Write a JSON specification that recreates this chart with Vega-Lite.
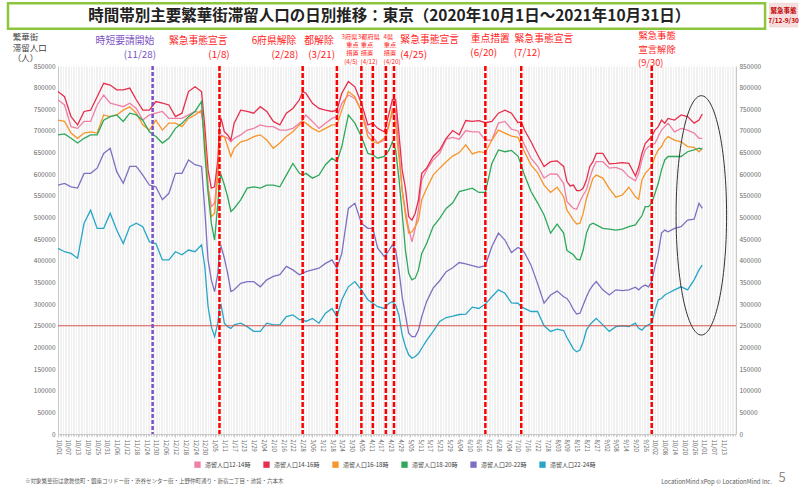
{
"$schema":"https://vega.github.io/schema/vega-lite/v6.json",
"width":678,"height":368,
"autosize":{"type":"none"},
"padding":{"left":58,"top":66,"right":64,"bottom":55},
"background":"white",
"config":{"view":{"stroke":null},"font":"Noto Sans CJK JP","text":{"font":"Noto Sans CJK JP"}},
"datasets":{
"pop":[
{"d":"2020-10-01","h12":772000,"h14":791000,"h16":725000,"h18":691000,"h20":575000,"h22":429000},
{"d":"2020-10-05","h12":760000,"h14":779000,"h16":722000,"h18":693000,"h20":579000,"h22":421000},
{"d":"2020-10-09","h12":710000,"h14":733000,"h16":695000,"h18":683000,"h20":571000,"h22":417000},
{"d":"2020-10-13","h12":706000,"h14":714000,"h16":683000,"h18":672000,"h20":568000,"h22":406000},
{"d":"2020-10-17","h12":722000,"h14":745000,"h16":695000,"h18":683000,"h20":602000,"h22":487000},
{"d":"2020-10-21","h12":722000,"h14":748000,"h16":698000,"h18":691000,"h20":602000,"h22":517000},
{"d":"2020-10-25","h12":760000,"h14":779000,"h16":695000,"h18":691000,"h20":614000,"h22":475000},
{"d":"2020-10-29","h12":783000,"h14":810000,"h16":737000,"h18":725000,"h20":648000,"h22":475000},
{"d":"2020-11-02","h12":764000,"h14":806000,"h16":733000,"h18":733000,"h20":660000,"h22":510000},
{"d":"2020-11-06","h12":760000,"h14":795000,"h16":737000,"h18":737000,"h20":606000,"h22":471000},
{"d":"2020-11-10","h12":756000,"h14":795000,"h16":748000,"h18":722000,"h20":579000,"h22":440000},
{"d":"2020-11-14","h12":764000,"h14":799000,"h16":756000,"h18":741000,"h20":618000,"h22":479000},
{"d":"2020-11-18","h12":752000,"h14":772000,"h16":741000,"h18":737000,"h20":618000,"h22":487000},
{"d":"2020-11-22","h12":725000,"h14":748000,"h16":714000,"h18":725000,"h20":598000,"h22":479000},
{"d":"2020-11-26","h12":737000,"h14":748000,"h16":702000,"h18":698000,"h20":575000,"h22":444000},
{"d":"2020-11-30","h12":741000,"h14":768000,"h16":725000,"h18":687000,"h20":571000,"h22":440000},
{"d":"2020-12-04","h12":745000,"h14":764000,"h16":702000,"h18":672000,"h20":541000,"h22":402000},
{"d":"2020-12-08","h12":729000,"h14":760000,"h16":718000,"h18":683000,"h20":556000,"h22":402000},
{"d":"2020-12-12","h12":729000,"h14":733000,"h16":718000,"h18":706000,"h20":602000,"h22":421000},
{"d":"2020-12-16","h12":729000,"h14":741000,"h16":710000,"h18":718000,"h20":602000,"h22":414000},
{"d":"2020-12-20","h12":737000,"h14":791000,"h16":729000,"h18":733000,"h20":633000,"h22":425000},
{"d":"2020-12-24","h12":745000,"h14":802000,"h16":737000,"h18":745000,"h20":622000,"h22":421000},
{"d":"2020-12-28","h12":741000,"h14":791000,"h16":748000,"h18":768000,"h20":618000,"h22":437000},
{"d":"2020-12-30","h12":687000,"h14":710000,"h16":679000,"h18":648000,"h20":518000,"h22":387000},
{"d":"2021-01-01","h12":571000,"h14":610000,"h16":571000,"h18":556000,"h20":402000,"h22":294000},
{"d":"2021-01-03","h12":525000,"h14":568000,"h16":502000,"h18":487000,"h20":356000,"h22":248000},
{"d":"2021-01-05","h12":533000,"h14":571000,"h16":510000,"h18":448000,"h20":329000,"h22":225000},
{"d":"2021-01-07","h12":610000,"h14":633000,"h16":602000,"h18":533000,"h20":371000,"h22":256000},
{"d":"2021-01-08","h12":679000,"h14":710000,"h16":672000,"h18":587000,"h20":425000,"h22":294000},
{"d":"2021-01-09","h12":691000,"h14":729000,"h16":687000,"h18":598000,"h20":433000,"h22":298000},
{"d":"2021-01-11","h12":687000,"h14":698000,"h16":687000,"h18":575000,"h20":406000,"h22":256000},
{"d":"2021-01-13","h12":683000,"h14":691000,"h16":664000,"h18":548000,"h20":371000,"h22":248000},
{"d":"2021-01-15","h12":675000,"h14":679000,"h16":641000,"h18":514000,"h20":329000,"h22":244000},
{"d":"2021-01-17","h12":683000,"h14":718000,"h16":660000,"h18":521000,"h20":333000,"h22":252000},
{"d":"2021-01-21","h12":691000,"h14":748000,"h16":675000,"h18":541000,"h20":348000,"h22":256000},
{"d":"2021-01-25","h12":702000,"h14":745000,"h16":679000,"h18":568000,"h20":352000,"h22":248000},
{"d":"2021-01-29","h12":706000,"h14":741000,"h16":687000,"h18":571000,"h20":352000,"h22":237000},
{"d":"2021-02-02","h12":714000,"h14":756000,"h16":691000,"h18":568000,"h20":340000,"h22":237000},
{"d":"2021-02-06","h12":710000,"h14":745000,"h16":679000,"h18":575000,"h20":356000,"h22":256000},
{"d":"2021-02-10","h12":710000,"h14":722000,"h16":660000,"h18":575000,"h20":364000,"h22":252000},
{"d":"2021-02-14","h12":702000,"h14":714000,"h16":672000,"h18":571000,"h20":368000,"h22":252000},
{"d":"2021-02-18","h12":702000,"h14":741000,"h16":687000,"h18":598000,"h20":387000,"h22":271000},
{"d":"2021-02-22","h12":706000,"h14":752000,"h16":698000,"h18":625000,"h20":379000,"h22":275000},
{"d":"2021-02-26","h12":718000,"h14":772000,"h16":714000,"h18":602000,"h20":368000,"h22":264000},
{"d":"2021-02-28","h12":725000,"h14":791000,"h16":722000,"h18":598000,"h20":371000,"h22":264000},
{"d":"2021-03-02","h12":737000,"h14":787000,"h16":718000,"h18":602000,"h20":375000,"h22":260000},
{"d":"2021-03-06","h12":722000,"h14":764000,"h16":706000,"h18":591000,"h20":379000,"h22":267000},
{"d":"2021-03-10","h12":706000,"h14":752000,"h16":698000,"h18":598000,"h20":383000,"h22":256000},
{"d":"2021-03-14","h12":718000,"h14":748000,"h16":706000,"h18":622000,"h20":394000,"h22":279000},
{"d":"2021-03-18","h12":729000,"h14":745000,"h16":714000,"h18":637000,"h20":402000,"h22":290000},
{"d":"2021-03-21","h12":733000,"h14":748000,"h16":714000,"h18":629000,"h20":383000,"h22":271000},
{"d":"2021-03-24","h12":764000,"h14":787000,"h16":748000,"h18":664000,"h20":417000,"h22":310000},
{"d":"2021-03-28","h12":783000,"h14":814000,"h16":791000,"h18":737000,"h20":521000,"h22":340000},
{"d":"2021-04-01","h12":775000,"h14":802000,"h16":779000,"h18":718000,"h20":533000,"h22":352000},
{"d":"2021-04-05","h12":748000,"h14":764000,"h16":745000,"h18":687000,"h20":487000,"h22":333000},
{"d":"2021-04-09","h12":698000,"h14":714000,"h16":687000,"h18":648000,"h20":475000,"h22":310000},
{"d":"2021-04-12","h12":687000,"h14":718000,"h16":675000,"h18":645000,"h20":475000,"h22":302000},
{"d":"2021-04-15","h12":671000,"h14":706000,"h16":672000,"h18":637000,"h20":429000,"h22":294000},
{"d":"2021-04-19","h12":679000,"h14":698000,"h16":683000,"h18":641000,"h20":410000,"h22":290000},
{"d":"2021-04-20","h12":691000,"h14":710000,"h16":687000,"h18":645000,"h20":414000,"h22":294000},
{"d":"2021-04-22","h12":718000,"h14":741000,"h16":714000,"h18":656000,"h20":425000,"h22":302000},
{"d":"2021-04-24","h12":741000,"h14":772000,"h16":752000,"h18":675000,"h20":437000,"h22":306000},
{"d":"2021-04-26","h12":748000,"h14":772000,"h16":714000,"h18":656000,"h20":425000,"h22":298000},
{"d":"2021-04-28","h12":656000,"h14":695000,"h16":641000,"h18":591000,"h20":379000,"h22":275000},
{"d":"2021-04-30","h12":564000,"h14":610000,"h16":564000,"h18":510000,"h20":317000,"h22":229000},
{"d":"2021-05-02","h12":514000,"h14":568000,"h16":506000,"h18":425000,"h20":275000,"h22":202000},
{"d":"2021-05-04","h12":475000,"h14":502000,"h16":464000,"h18":371000,"h20":233000,"h22":183000},
{"d":"2021-05-06","h12":444000,"h14":494000,"h16":467000,"h18":356000,"h20":225000,"h22":175000},
{"d":"2021-05-08","h12":475000,"h14":510000,"h16":479000,"h18":360000,"h20":225000,"h22":179000},
{"d":"2021-05-10","h12":518000,"h14":541000,"h16":494000,"h18":379000,"h20":240000,"h22":186000},
{"d":"2021-05-12","h12":587000,"h14":602000,"h16":541000,"h18":417000,"h20":271000,"h22":198000},
{"d":"2021-05-15","h12":610000,"h14":614000,"h16":567000,"h18":440000,"h20":306000,"h22":216000},
{"d":"2021-05-19","h12":633000,"h14":641000,"h16":598000,"h18":479000,"h20":337000,"h22":237000},
{"d":"2021-05-23","h12":648000,"h14":656000,"h16":614000,"h18":498000,"h20":354000,"h22":260000},
{"d":"2021-05-27","h12":681000,"h14":683000,"h16":629000,"h18":521000,"h20":375000,"h22":269000},
{"d":"2021-05-31","h12":685000,"h14":701000,"h16":642000,"h18":534000,"h20":384000,"h22":272000},
{"d":"2021-06-04","h12":681000,"h14":691000,"h16":650000,"h18":560000,"h20":396000,"h22":276000},
{"d":"2021-06-08","h12":701000,"h14":724000,"h16":668000,"h18":564000,"h20":393000,"h22":277000},
{"d":"2021-06-12","h12":698000,"h14":722000,"h16":647000,"h18":568000,"h20":389000,"h22":293000},
{"d":"2021-06-16","h12":698000,"h14":724000,"h16":652000,"h18":558000,"h20":385000,"h22":290000},
{"d":"2021-06-20","h12":679000,"h14":719000,"h16":650000,"h18":558000,"h20":389000,"h22":300000},
{"d":"2021-06-24","h12":679000,"h14":722000,"h16":679000,"h18":625000,"h20":433000,"h22":317000},
{"d":"2021-06-28","h12":718000,"h14":741000,"h16":702000,"h18":656000,"h20":464000,"h22":333000},
{"d":"2021-07-02","h12":722000,"h14":748000,"h16":695000,"h18":652000,"h20":448000,"h22":325000},
{"d":"2021-07-06","h12":704000,"h14":741000,"h16":688000,"h18":655000,"h20":419000,"h22":303000},
{"d":"2021-07-10","h12":700000,"h14":719000,"h16":685000,"h18":642000,"h20":431000,"h22":302000},
{"d":"2021-07-12","h12":683000,"h14":721000,"h16":668000,"h18":621000,"h20":427000,"h22":294000},
{"d":"2021-07-14","h12":668000,"h14":702000,"h16":652000,"h18":598000,"h20":419000,"h22":290000},
{"d":"2021-07-18","h12":637000,"h14":675000,"h16":621000,"h18":560000,"h20":390000,"h22":283000},
{"d":"2021-07-22","h12":619000,"h14":645000,"h16":604000,"h18":534000,"h20":348000,"h22":283000},
{"d":"2021-07-26","h12":591000,"h14":618000,"h16":575000,"h18":506000,"h20":302000,"h22":250000},
{"d":"2021-07-30","h12":601000,"h14":629000,"h16":558000,"h18":464000,"h20":321000,"h22":237000},
{"d":"2021-08-03","h12":600000,"h14":631000,"h16":570000,"h18":485000,"h20":330000,"h22":242000},
{"d":"2021-08-07","h12":579000,"h14":618000,"h16":548000,"h18":464000,"h20":317000,"h22":239000},
{"d":"2021-08-09","h12":537000,"h14":583000,"h16":517000,"h18":424000,"h20":313000,"h22":223000},
{"d":"2021-08-11","h12":529000,"h14":573000,"h16":506000,"h18":419000,"h20":302000,"h22":210000},
{"d":"2021-08-13","h12":521000,"h14":575000,"h16":494000,"h18":414000,"h20":287000,"h22":196000},
{"d":"2021-08-15","h12":519000,"h14":562000,"h16":485000,"h18":404000,"h20":277000,"h22":190000},
{"d":"2021-08-17","h12":537000,"h14":562000,"h16":487000,"h18":402000,"h20":279000,"h22":194000},
{"d":"2021-08-19","h12":552000,"h14":568000,"h16":510000,"h18":425000,"h20":298000,"h22":213000},
{"d":"2021-08-21","h12":564000,"h14":587000,"h16":544000,"h18":464000,"h20":317000,"h22":240000},
{"d":"2021-08-23","h12":591000,"h14":618000,"h16":567000,"h18":483000,"h20":333000,"h22":252000},
{"d":"2021-08-25","h12":614000,"h14":629000,"h16":591000,"h18":487000,"h20":344000,"h22":260000},
{"d":"2021-08-27","h12":629000,"h14":648000,"h16":598000,"h18":483000,"h20":352000,"h22":267000},
{"d":"2021-08-31","h12":629000,"h14":648000,"h16":591000,"h18":475000,"h20":333000,"h22":252000},
{"d":"2021-09-04","h12":614000,"h14":624000,"h16":567000,"h18":473000,"h20":321000,"h22":237000},
{"d":"2021-09-08","h12":616000,"h14":625000,"h16":547000,"h18":471000,"h20":333000,"h22":248000},
{"d":"2021-09-12","h12":610000,"h14":627000,"h16":552000,"h18":473000,"h20":331000,"h22":250000},
{"d":"2021-09-16","h12":594000,"h14":625000,"h16":570000,"h18":479000,"h20":333000,"h22":248000},
{"d":"2021-09-20","h12":585000,"h14":596000,"h16":548000,"h18":483000,"h20":339000,"h22":256000},
{"d":"2021-09-22","h12":602000,"h14":616000,"h16":542000,"h18":494000,"h20":333000,"h22":244000},
{"d":"2021-09-24","h12":633000,"h14":648000,"h16":587000,"h18":504000,"h20":340000,"h22":240000},
{"d":"2021-09-26","h12":656000,"h14":671000,"h16":602000,"h18":525000,"h20":344000,"h22":248000},
{"d":"2021-09-28","h12":664000,"h14":679000,"h16":610000,"h18":525000,"h20":340000,"h22":252000},
{"d":"2021-09-30","h12":668000,"h14":687000,"h16":618000,"h18":533000,"h20":352000,"h22":256000},
{"d":"2021-10-02","h12":671000,"h14":702000,"h16":641000,"h18":556000,"h20":387000,"h22":286000},
{"d":"2021-10-04","h12":687000,"h14":710000,"h16":656000,"h18":579000,"h20":417000,"h22":310000},
{"d":"2021-10-06","h12":702000,"h14":725000,"h16":664000,"h18":610000,"h20":464000,"h22":313000},
{"d":"2021-10-08","h12":710000,"h14":718000,"h16":679000,"h18":633000,"h20":471000,"h22":321000},
{"d":"2021-10-10","h12":718000,"h14":729000,"h16":687000,"h18":641000,"h20":467000,"h22":325000},
{"d":"2021-10-14","h12":698000,"h14":725000,"h16":679000,"h18":641000,"h20":475000,"h22":333000},
{"d":"2021-10-18","h12":706000,"h14":737000,"h16":675000,"h18":641000,"h20":479000,"h22":340000},
{"d":"2021-10-22","h12":702000,"h14":733000,"h16":664000,"h18":652000,"h20":494000,"h22":333000},
{"d":"2021-10-26","h12":695000,"h14":718000,"h16":662000,"h18":656000,"h20":496000,"h22":356000},
{"d":"2021-10-29","h12":683000,"h14":725000,"h16":652000,"h18":660000,"h20":533000,"h22":379000},
{"d":"2021-10-31","h12":683000,"h14":739000,"h16":660000,"h18":658000,"h20":521000,"h22":390000}
]},
"layer":[
{"data":{"values":[{"x1":"2020-08-31T08:00:00Z","x2":"2021-12-08T12:00:00Z","y1":995000,"y2":936000}]},
 "mark":{"type":"rect","fill":"white","stroke":"#8cc63e","strokeWidth":2.5},
 "encoding":{"x":{"field":"x1","type":"temporal","axis":null},"x2":{"field":"x2"},"y":{"field":"y1","type":"quantitative","axis":null},"y2":{"field":"y2"}}},
{"data":{"values":[{"x1":"2021-12-11T06:00:00Z","x2":"2021-12-28T12:00:00Z","y1":995000,"y2":940000}]},
 "mark":{"type":"rect","fill":"#f6dede","stroke":"#e8c8c8","strokeWidth":0.5},
 "encoding":{"x":{"field":"x1","type":"temporal","axis":null},"x2":{"field":"x2"},"y":{"field":"y1","type":"quantitative","axis":null},"y2":{"field":"y2"}}},
{"data":{"values":[{"d":"2020-11-28"}]},
 "mark":{"type":"rule","color":"#7b4fc8","strokeWidth":2,"strokeDash":[4,2]},
 "encoding":{"x":{"field":"d","type":"temporal",
   "axis":{"orient":"bottom","title":null,"tickCount":{"interval":"day","step":1},"labels":false,"ticks":true,"tickSize":2,"tickColor":"#d0d0d0","domain":false,
    "grid":true,"gridColor":"#ebebeb","gridWidth":0.7}}}},
{"data":{"name":"pop"},
 "transform":[{"fold":["h12","h14","h16","h18","h20","h22"],"as":["s","v"]}],
 "mark":{"type":"line","strokeWidth":1.3,"clip":true},
 "encoding":{
  "x":{"field":"d","type":"temporal",
   "scale":{"type":"utc","domain":[{"year":2020,"month":10,"date":1,"utc":true},{"year":2021,"month":11,"date":20,"hours":16,"utc":true}]},
   "axis":{"orient":"bottom","title":null,
    "values":[1601510400000,1602028800000,1602547200000,1603065600000,1603584000000,1604102400000,1604620800000,1605139200000,1605657600000,1606176000000,1606694400000,1607212800000,1607731200000,1608249600000,1608768000000,1609286400000,1609804800000,1610323200000,1610841600000,1611360000000,1611878400000,1612396800000,1612915200000,1613433600000,1613952000000,1614470400000,1614988800000,1615507200000,1616025600000,1616544000000,1617062400000,1617580800000,1618099200000,1618617600000,1619136000000,1619654400000,1620172800000,1620691200000,1621209600000,1621728000000,1622246400000,1622764800000,1623283200000,1623801600000,1624320000000,1624838400000,1625356800000,1625875200000,1626393600000,1626912000000,1627430400000,1627948800000,1628467200000,1628985600000,1629504000000,1630022400000,1630540800000,1631059200000,1631577600000,1632096000000,1632614400000,1633132800000,1633651200000,1634169600000,1634688000000,1635206400000,1635724800000,1636243200000,1636761600000],
    "format":"%-m/%d",
    "labelAngle":90,"labelAlign":"left","labelBaseline":"middle","labelFontSize":6,"labelColor":"#666666","labelOverlap":false,"labelFlush":false,"labelBound":false,
    "grid":false,"tickSize":3,"tickColor":"#c8c8c8","domainColor":"#c8c8c8","labelPadding":2}},
  "y":{"field":"v","type":"quantitative","scale":{"domain":[0,850000],"nice":false},
   "axis":{"orient":"left","title":null,"values":[0,50000,100000,150000,200000,250000,300000,350000,400000,450000,500000,550000,600000,650000,700000,750000,800000,850000],
    "format":"d","labelFontSize":6.5,"labelColor":"#666666","ticks":false,"domainColor":"#c8c8c8","gridColor":"#e2e2e2","labelPadding":3}},
  "color":{"field":"s","type":"nominal",
   "scale":{"domain":["h12","h14","h16","h18","h20","h22"],"range":["#f07fa6","#e62e4d","#f7952a","#2ea85a","#7f6fc0","#27a6c6"]},
   "legend":{"orient":"none","legendX":136,"legendY":395,"direction":"horizontal","title":null,
    "symbolType":"square","symbolSize":40,"symbolStrokeWidth":0,"labelFontSize":6,"labelColor":"#404040","columnPadding":12,
    "labelExpr":"'滞留人口' + substring(datum.label,1) + '-' + (toNumber(substring(datum.label,1)) + 2) + '時'",
    "encode":{"symbols":{"update":{"fill":{"scale":"color","field":"value"},"fillOpacity":{"value":1}}}}}}
 }},
{"data":{"values":[{"v":250000}]},
 "mark":{"type":"rule","color":"#d9534f","strokeWidth":1},
 "encoding":{"y":{"field":"v","type":"quantitative",
   "axis":{"orient":"right","title":null,"values":[0,50000,100000,150000,200000,250000,300000,350000,400000,450000,500000,550000,600000,650000,700000,750000,800000,850000],
    "format":"d","labelFontSize":6.5,"labelColor":"#666666","ticks":false,"domainColor":"#c8c8c8","grid":false,"labelPadding":3}}}},
{"data":{"values":[{"d":"2021-01-08"},{"d":"2021-02-28"},{"d":"2021-03-21"},{"d":"2021-04-05"},{"d":"2021-04-12"},{"d":"2021-04-20"},{"d":"2021-04-25"},{"d":"2021-06-20"},{"d":"2021-07-12"},{"d":"2021-09-30"}]},
 "mark":{"type":"rule","color":"#ff0000","strokeWidth":2.5,"strokeDash":[5,2]},
 "encoding":{"x":{"field":"d","type":"temporal","axis":null}}},
{"data":{"values":[{"d":"2020-11-28"}]},
 "mark":{"type":"rule","color":"#7b4fc8","strokeWidth":2,"strokeDash":[4,2]},
 "encoding":{"x":{"field":"d","type":"temporal","axis":null}}},
{"data":{"values":[{"d":"2021-10-30T10:00:00Z","v":505000}]},
 "mark":{"type":"point","shape":"M0,-1A0.211,1,0,1,1,0,1A0.211,1,0,1,1,0,-1Z","size":57300,"filled":false,"stroke":"#333333","strokeWidth":1,"opacity":1},
 "encoding":{"x":{"field":"d","type":"temporal","axis":null},"y":{"field":"v","type":"quantitative","axis":null}}},
{"data":{"values":[{"t":"時間帯別主要繁華街滞留人口の日別推移：東京（2020年10月1日～2021年10月31日）","d":"2021-04-22T02:00:00Z","v":965000}]},
 "mark":{"type":"text","fontSize":15.5,"fontWeight":"bold","color":"#222222","align":"center","baseline":"middle"},
 "encoding":{"x":{"field":"d","type":"temporal","axis":null},"y":{"field":"v","type":"quantitative","axis":null},"text":{"field":"t"}}},
{"data":{"values":[{"t":"緊急事態","d":"2021-12-19T20:00:00Z","v":977000},{"t":"7/12-9/30","d":"2021-12-19T20:00:00Z","v":954000}]},
 "mark":{"type":"text","fontSize":6.5,"fontWeight":"bold","color":"#c00000","align":"center","baseline":"middle"},
 "encoding":{"x":{"field":"d","type":"temporal","axis":null},"y":{"field":"v","type":"quantitative","axis":null},"text":{"field":"t"}}},
{"data":{"values":[{"t":"繁華街","d":"2020-09-03T07:00:00Z","v":917000},{"t":"滞留人口","d":"2020-09-03T07:00:00Z","v":892000},{"t":"（人）","d":"2020-09-03T07:00:00Z","v":868000}]},
 "mark":{"type":"text","fontSize":8.5,"color":"#404040","align":"left","baseline":"middle"},
 "encoding":{"x":{"field":"d","type":"temporal","axis":null},"y":{"field":"v","type":"quantitative","axis":null},"text":{"field":"t"}}},
{"data":{"values":[{"t":"時短要請開始","d":"2020-11-11T02:00:00Z","v":908000},{"t":"(11/28)","d":"2020-11-20T05:00:00Z","v":874500}]},
 "mark":{"type":"text","fontSize":9.8,"color":"#7b52c4","align":"center","baseline":"middle"},
 "encoding":{"x":{"field":"d","type":"temporal","axis":null},"y":{"field":"v","type":"quantitative","axis":null},"text":{"field":"t"}}},
{"data":{"values":[
 {"t":"緊急事態宣言","d":"2020-12-26T00:00:00Z","v":908000},{"t":"(1/8)","d":"2021-01-07T17:00:00Z","v":874500},
 {"t":"6府県解除","d":"2021-02-10T10:00:00Z","v":908000},{"t":"(2/28)","d":"2021-02-17T02:00:00Z","v":874500},
 {"t":"都解除","d":"2021-03-10T00:00:00Z","v":908000},{"t":"(3/21)","d":"2021-03-11T14:00:00Z","v":874500},
 {"t":"緊急事態宣言","d":"2021-05-16T22:00:00Z","v":910000},{"t":"(4/25)","d":"2021-05-07T00:00:00Z","v":876500},
 {"t":"重点措置","d":"2021-06-23T00:00:00Z","v":913500},{"t":"(6/20)","d":"2021-06-19T00:00:00Z","v":880000},
 {"t":"緊急事態宣言","d":"2021-07-25T22:00:00Z","v":913500},{"t":"(7/12)","d":"2021-07-15T14:00:00Z","v":880000}]},
 "mark":{"type":"text","fontSize":9.8,"color":"#ff1a1a","align":"center","baseline":"middle"},
 "encoding":{"x":{"field":"d","type":"temporal","axis":null},"y":{"field":"v","type":"quantitative","axis":null},"text":{"field":"t"}}},
{"data":{"values":[
 {"t":"緊急事態","d":"2021-10-03T07:00:00Z","v":918500},{"t":"宣言解除","d":"2021-10-03T07:00:00Z","v":887500},{"t":"(9/30)","d":"2021-09-29T10:00:00Z","v":856500}]},
 "mark":{"type":"text","fontSize":9.3,"color":"#ff1a1a","align":"center","baseline":"middle"},
 "encoding":{"x":{"field":"d","type":"temporal","axis":null},"y":{"field":"v","type":"quantitative","axis":null},"text":{"field":"t"}}},
{"data":{"values":[
 {"t":"3府県","d":"2021-03-28T17:00:00Z","v":916000},{"t":"重点","d":"2021-03-30T12:00:00Z","v":898600},{"t":"措置","d":"2021-03-30T12:00:00Z","v":880800},{"t":"(4/5)","d":"2021-03-29T14:00:00Z","v":859300},
 {"t":"3都府県","d":"2021-04-09T14:00:00Z","v":916000},{"t":"重点","d":"2021-04-08T10:00:00Z","v":898600},{"t":"措置","d":"2021-04-08T10:00:00Z","v":880800},{"t":"(4/12)","d":"2021-04-09T17:00:00Z","v":859300},
 {"t":"4県","d":"2021-04-21T12:00:00Z","v":916000},{"t":"重点","d":"2021-04-22T12:00:00Z","v":898600},{"t":"措置","d":"2021-04-22T12:00:00Z","v":880800},{"t":"(4/20)","d":"2021-04-23T19:00:00Z","v":859300}]},
 "mark":{"type":"text","fontSize":6.2,"color":"#ff1a1a","align":"center","baseline":"middle"},
 "encoding":{"x":{"field":"d","type":"temporal","axis":null},"y":{"field":"v","type":"quantitative","axis":null},"text":{"field":"t"}}},
{"data":{"values":[{"t":"※対象繁華街は歌舞伎町・銀座コリドー街・渋谷センター街・上野仲町通り・新宿二丁目・池袋・六本木","d":"2020-09-10T17:00:00Z","v":-108600}]},
 "mark":{"type":"text","fontSize":5.5,"color":"#595959","align":"left","baseline":"middle"},
 "encoding":{"x":{"field":"d","type":"temporal","axis":null},"y":{"field":"v","type":"quantitative","axis":null},"text":{"field":"t"}}},
{"data":{"values":[{"t":"LocationMind xPop © LocationMind Inc.","d":"2021-12-12T19:00:00Z","v":-110900}]},
 "mark":{"type":"text","fontSize":6,"color":"#595959","align":"right","baseline":"middle"},
 "encoding":{"x":{"field":"d","type":"temporal","axis":null},"y":{"field":"v","type":"quantitative","axis":null},"text":{"field":"t"}}},
{"data":{"values":[{"t":"5","d":"2021-12-18T22:00:00Z","v":-101600}]},
 "mark":{"type":"text","fontSize":13,"color":"#8a8a8a","align":"center","baseline":"middle"},
 "encoding":{"x":{"field":"d","type":"temporal","axis":null},"y":{"field":"v","type":"quantitative","axis":null},"text":{"field":"t"}}}
],
"resolve":{"axis":{"x":"independent","y":"independent"}}
}
